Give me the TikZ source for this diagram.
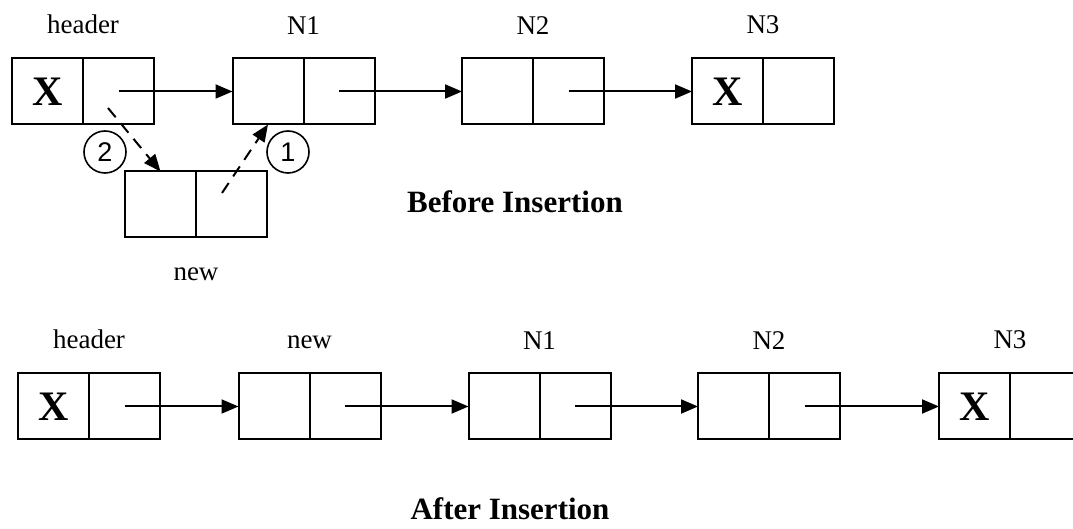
\documentclass[tikz,border=0pt]{standalone}
\usepackage{fontspec}
\setmainfont{Liberation Serif}
\newfontfamily\numfont{Liberation Sans}
\usetikzlibrary{positioning,arrows.meta}

\tikzset{
  cell/.style={draw, line width=1pt, minimum width=35.5pt, minimum height=33pt, inner sep=0pt, outer sep=0pt},
  nilcell/.style={cell, font=\bfseries\fontsize{21}{24}\selectfont},
  lbl/.style={inner sep=0pt, font=\fontsize{13.5}{16}\selectfont},
  title/.style={anchor=base, font=\bfseries\fontsize{15.5}{18}\selectfont},
  stepnum/.style={circle, draw, line width=0.8pt, minimum size=21pt, inner sep=0pt, font=\numfont\fontsize{13.5}{15}\selectfont},
  link/.style={line width=1pt, -{Triangle[length=8.5pt, width=7pt]}},
  move/.style={link, dash pattern=on 6pt off 4pt}
}

\begin{document}
\begin{tikzpicture}[x=0.5pt, y=-0.5pt]
  \clip (0, 0) rectangle (1073, 529);

  % before insertion
  \node[nilcell] (hd) at (47.5, 91.5) {X};
  \node[cell, right=0pt of hd] (hl) {};
  \node[cell] (ad) at (268, 91.5) {};
  \node[cell, right=0pt of ad] (al) {};
  \node[cell] (bd) at (497.5, 91.5) {};
  \node[cell, right=0pt of bd] (bl) {};
  \node[nilcell] (cd) at (727.5, 91.5) {X};
  \node[cell, right=0pt of cd] (cl) {};
  \node[cell] (nd) at (160.5, 204.5) {};
  \node[cell, right=0pt of nd] (nl) {};

  \node[lbl, above=12pt of hd.north east] {header};
  \node[lbl, above=12pt of ad.north east] {N1};
  \node[lbl, above=12pt of bd.north east] {N2};
  \node[lbl, above=12pt of cd.north east] {N3};
  \node[lbl, below=15pt of nd.south east] {new};

  \draw[link] (hl.center) -- (ad.west);
  \draw[link] (al.center) -- (bd.west);
  \draw[link] (bl.center) -- (cd.west);

  \coordinate (p2) at (108, 108);
  \coordinate (p1) at (222, 193);
  \draw[move] (p2) -- (nd.north);
  \draw[move] (p1) -- (ad.south);
  \node[stepnum] (s2) at (105, 152) {2};
  \node[stepnum] (s1) at (288, 152) {1};

  \node[title] (before) at (515, 213) {Before Insertion};

  % after insertion
  \node[nilcell] (Hd) at (53.5, 406.5) {X};
  \node[cell, right=0pt of Hd] (Hl) {};
  \node[cell] (Nd) at (274, 406.5) {};
  \node[cell, right=0pt of Nd] (Nl) {};
  \node[cell] (Ad) at (504, 406.5) {};
  \node[cell, right=0pt of Ad] (Al) {};
  \node[cell] (Bd) at (733.5, 406.5) {};
  \node[cell, right=0pt of Bd] (Bl) {};
  \node[nilcell] (Cd) at (974.5, 406.5) {X};
  \node[cell, right=0pt of Cd] (Cl) {};

  \node[lbl, above=12pt of Hd.north east] {header};
  \node[lbl, above=12pt of Nd.north east] {new};
  \node[lbl, above=12pt of Ad.north east] {N1};
  \node[lbl, above=12pt of Bd.north east] {N2};
  \node[lbl, above=12pt of Cd.north east] {N3};

  \draw[link] (Hl.center) -- (Nd.west);
  \draw[link] (Nl.center) -- (Ad.west);
  \draw[link] (Al.center) -- (Bd.west);
  \draw[link] (Bl.center) -- (Cd.west);

  \node[title] (after) at (510, 520) {After Insertion};
\end{tikzpicture}
\end{document}
